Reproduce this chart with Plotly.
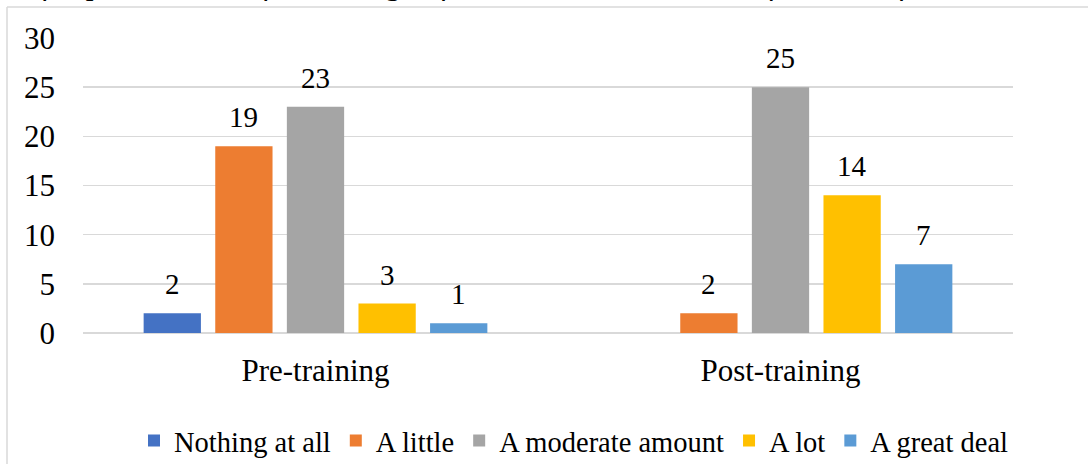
import plotly.graph_objects as go

categories = ["Pre-training", "Post-training"]
series_names = ["Nothing at all", "A little", "A moderate amount", "A lot", "A great deal"]
nothing_at_all = [2, 0]
a_little = [19, 2]
a_moderate_amount = [23, 25]
a_lot = [3, 14]
a_great_deal = [1, 7]
series_values = [nothing_at_all, a_little, a_moderate_amount, a_lot, a_great_deal]
colors = ["#4472C4", "#ED7D31", "#A5A5A5", "#FFC000", "#5B9BD5"]
y_ticks = [0, 5, 10, 15, 20, 25, 30]
title_text = "Self-reported level of knowledge of health-related issues, before and after"

FONT = "Liberation Serif, Times New Roman, serif"
W, H = 1088, 464
ML, MR, MT, MB = 83, 75, 38, 131
BARGAP = 0.23
GROUPGAP = 0.2

fig = go.Figure()
for name, vals, col in zip(series_names, series_values, colors):
    fig.add_trace(go.Bar(name=name, x=categories, y=vals, marker_color=col,
                         marker_line_width=0))

# data labels placed above each bar (computed from the grouped-bar geometry)
n = len(series_names)
slot = (1 - BARGAP) / n
annotations = []
for i, vals in enumerate(series_values):
    for ci, v in enumerate(vals):
        if v == 0:
            continue
        annotations.append(dict(x=ci + (i - (n - 1) / 2) * slot, y=v, xref="x", yref="y",
                                text=str(v), showarrow=False, yanchor="bottom",
                                yshift=11, font=dict(family=FONT, size=29, color="#000000")))

pw = W - ML - MR
ph = H - MT - MB
# cut-off caption at the very top
annotations.append(dict(x=(2 - ML) / pw, y=(H - MB + 17) / ph, xref="paper", yref="paper",
                        xanchor="left", yanchor="middle", showarrow=False, text="<i>" + title_text + "</i>",
                        font=dict(family=FONT, size=32, color="#000000")))

fig.update_layout(
    width=W, height=H,
    margin=dict(l=ML, r=MR, t=MT, b=MB, autoexpand=False),
    paper_bgcolor="white", plot_bgcolor="white",
    barmode="group", bargap=BARGAP, bargroupgap=GROUPGAP,
    font=dict(family=FONT, color="#000000"),
    showlegend=True,
    legend=dict(orientation="h", x=(574 - ML) / pw, xanchor="center",
                y=-(441 - (H - MB)) / ph, yanchor="middle",
                font=dict(family=FONT, size=28.5, color="#000000"),
                itemwidth=30, tracegroupgap=0, traceorder="normal"),
    annotations=annotations,
    shapes=[
        dict(type="line", xref="paper", yref="paper", x0=(7 - ML) / pw, x1=(W + 10 - ML) / pw,
             y0=(H - MB - 7) / ph, y1=(H - MB - 7) / ph, line=dict(color="#D9D9D9", width=1.5)),
        dict(type="line", xref="paper", yref="paper", x0=(7 - ML) / pw, x1=(7 - ML) / pw,
             y0=(H - MB - 7) / ph, y1=-(H + 10 - (H - MB)) / ph, line=dict(color="#D9D9D9", width=1.5)),
    ],
)
fig.update_xaxes(showgrid=False, showline=False, ticks="", zeroline=False, automargin=False,
                 ticklabelstandoff=16,
                 tickfont=dict(family=FONT, size=31, color="#000000"))
fig.update_yaxes(range=[0, 30], tickvals=y_ticks, showgrid=True, gridcolor="#D9D9D9", gridwidth=1.5,
                 zeroline=True, zerolinecolor="#D9D9D9", zerolinewidth=1.5, showline=False,
                 ticks="", ticklabelstandoff=27, automargin=False,
                 tickfont=dict(family=FONT, size=31, color="#000000"))

fig.write_html("out.html", config={"displayModeBar": False, "staticPlot": True},
               post_script="document.body.style.margin='0px';document.body.style.overflow='hidden';")
